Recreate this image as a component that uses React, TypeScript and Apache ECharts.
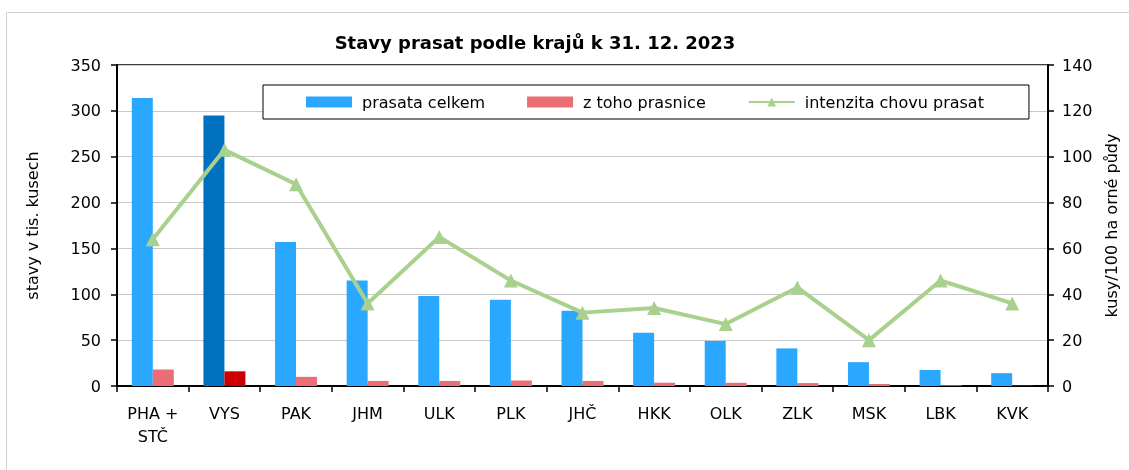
import React, { useEffect, useRef } from "react";
import * as echarts from "echarts";

const categories = ["PHA +\nSTČ", "VYS", "PAK", "JHM", "ULK", "PLK", "JHČ", "HKK", "OLK", "ZLK", "MSK", "LBK", "KVK"];
const prasataCelkem = [314, 295, 157, 115, 98, 94, 82, 58, 49, 41, 26, 17.5, 14];
const prasnice = [18, 16, 10, 5.5, 5.5, 6, 5.5, 3.6, 3.5, 3.2, 2.2, 0.8, 0.4];
const intenzita = [64, 103, 88, 36, 65, 46, 32, 34, 27, 43, 20, 46, 36];
const highlightIndex = 1;

const FONT = "DejaVu Sans";

export default function App() {
  const ref = useRef<HTMLDivElement>(null);
  useEffect(() => {
    if (!ref.current) return;
    const chart = echarts.init(ref.current, undefined, { renderer: "svg" });
    chart.setOption({
      animation: false,
      textStyle: { fontFamily: FONT, color: "#000" },
      title: {
        text: "Stavy prasat podle krajů k 31. 12. 2023",
        left: 530,
        textAlign: "center",
        top: 28,
        textStyle: { fontFamily: FONT, fontWeight: "bold", fontSize: 18, color: "#000" },
      },
      graphic: [
        {
          type: "rect",
          shape: { x: 6.5, y: 12.5, width: 1200, height: 500 },
          style: { fill: "none", stroke: "#d0d0d0", lineWidth: 1 },
          silent: true,
        },
      ],
      legend: {
        left: 263,
        top: 85,
        padding: [9, 45, 9, 43],
        itemGap: 42,
        itemWidth: 46,
        itemHeight: 11,
        backgroundColor: "#fff",
        borderColor: "#000",
        borderWidth: 1,
        borderRadius: 0,
        textStyle: { fontFamily: FONT, fontSize: 16, color: "#000", padding: [0, 0, 0, 5] },
        data: [
          { name: "prasata celkem", icon: "rect" },
          { name: "z toho prasnice", icon: "rect" },
          { name: "intenzita chovu prasat" },
        ],
      },
      grid: {
        left: 117,
        right: 81,
        top: 65,
        bottom: 84,
        show: true,
        borderColor: "#000",
        borderWidth: 1.5,
        backgroundColor: "transparent",
      },
      xAxis: {
        type: "category",
        data: categories,
        axisLine: { lineStyle: { color: "#000", width: 2 } },
        axisTick: { show: true, length: 6, lineStyle: { color: "#000", width: 1.5 } },
        axisLabel: { fontFamily: FONT, fontSize: 16, color: "#000", margin: 16, lineHeight: 23 },
      },
      yAxis: [
        {
          type: "value",
          min: 0,
          max: 350,
          interval: 50,
          name: "stavy v tis. kusech",
          nameLocation: "middle",
          nameRotate: 90,
          nameGap: 77,
          nameTextStyle: { fontFamily: FONT, fontSize: 16, color: "#000" },
          axisLine: { show: true, lineStyle: { color: "#000", width: 2 } },
          axisTick: { show: true, length: 6, lineStyle: { color: "#000", width: 1.5 } },
          axisLabel: { fontFamily: FONT, fontSize: 16, color: "#000", margin: 16 },
          splitLine: { show: true, lineStyle: { color: "#c8c8c8", width: 1.2 } },
        },
        {
          type: "value",
          min: 0,
          max: 140,
          interval: 20,
          position: "right",
          name: "kusy/100 ha orné půdy",
          nameLocation: "middle",
          nameRotate: 90,
          nameGap: 52,
          nameTextStyle: { fontFamily: FONT, fontSize: 16, color: "#000" },
          axisLine: { show: true, lineStyle: { color: "#000", width: 2 } },
          axisTick: { show: true, length: 6, lineStyle: { color: "#000", width: 1.5 } },
          axisLabel: { fontFamily: FONT, fontSize: 16, color: "#000", margin: 14 },
          splitLine: { show: false },
        },
      ],
      series: [
        {
          name: "prasata celkem",
          type: "bar",
          barWidth: 21,
          barGap: "0%",
          itemStyle: { color: "#2aa8ff" },
          data: prasataCelkem.map((v, i) =>
            i === highlightIndex ? { value: v, itemStyle: { color: "#0070c0" } } : v
          ),
        },
        {
          name: "z toho prasnice",
          type: "bar",
          barWidth: 21,
          barGap: "0%",
          itemStyle: { color: "#ec6e75" },
          data: prasnice.map((v, i) =>
            i === highlightIndex ? { value: v, itemStyle: { color: "#cc0000" } } : v
          ),
        },
        {
          name: "intenzita chovu prasat",
          type: "line",
          yAxisIndex: 1,
          symbol: "triangle",
          symbolSize: 14,
          itemStyle: { color: "#a9d18e" },
          lineStyle: { color: "#a9d18e", width: 4 },
          data: intenzita,
          z: 5,
        },
      ],
    });
    return () => chart.dispose();
  }, []);
  return <div ref={ref} style={{ position: "fixed", left: 0, top: 0, width: 1129, height: 470 }} />;
}
